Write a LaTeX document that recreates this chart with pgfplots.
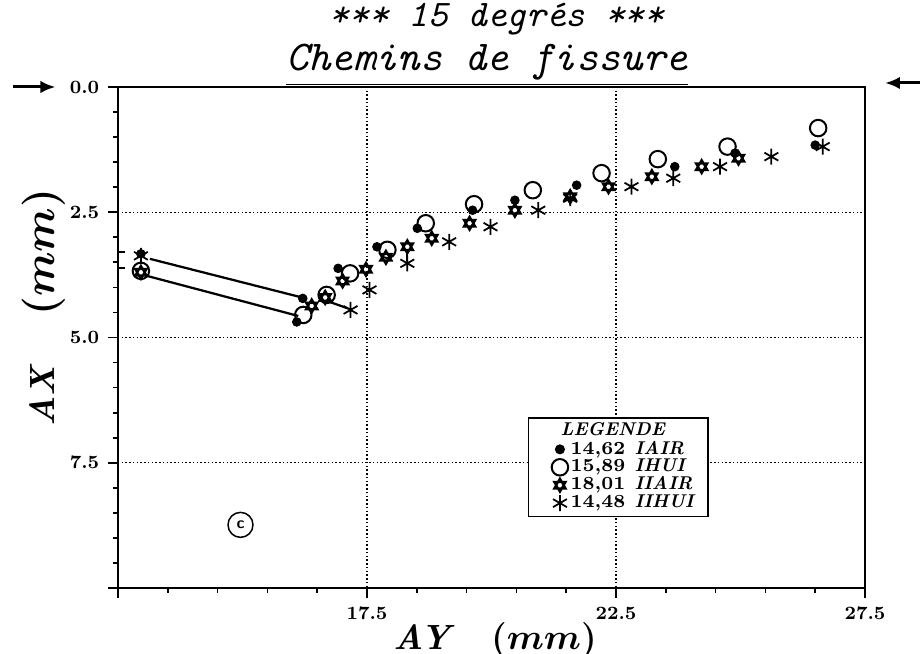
\documentclass[border=0pt]{standalone}
\usepackage{pgfplots}
\pgfplotsset{compat=1.18}
\usetikzlibrary{plotmarks,arrows.meta}
\pgfdeclareplotmark{hexagram}{%
  \pgfpathmoveto{\pgfqpointpolar{90}{\pgfplotmarksize}}%
  \pgfpathlineto{\pgfqpointpolar{210}{\pgfplotmarksize}}%
  \pgfpathlineto{\pgfqpointpolar{330}{\pgfplotmarksize}}%
  \pgfpathclose
  \pgfpathmoveto{\pgfqpointpolar{270}{\pgfplotmarksize}}%
  \pgfpathlineto{\pgfqpointpolar{30}{\pgfplotmarksize}}%
  \pgfpathlineto{\pgfqpointpolar{150}{\pgfplotmarksize}}%
  \pgfpathclose
  \pgfusepathqstroke
}
\begin{document}
\begin{tikzpicture}
\useasboundingbox (-47.2pt,-26.4pt) rectangle (320.8pt,235.2pt);
\begin{axis}[
  at={(0pt,0pt)}, anchor=south west,
  scale only axis, width=298.8pt, height=200.4pt,
  xmin=12.5, xmax=27.5, ymin=0, ymax=10, y dir=reverse,
  xtick={12.5,17.5,22.5,27.5},
  xticklabels={,\textbf{17.5},\textbf{22.5},\textbf{27.5}},
  ytick={0,2.5,5,7.5,10},
  yticklabels={\textbf{0.0},\textbf{2.5},\textbf{5.0},\textbf{7.5},},
  minor x tick num=4, minor y tick num=4,
  xtick pos=left, ytick pos=left,
  tick align=outside, major tick length=4pt, minor tick length=2pt,
  tick style={black, line width=0.7pt},
  grid=major,
  major grid style={black, line width=0.5pt, dash pattern=on 0.6pt off 0.9pt},
  axis line style={line width=0.9pt},
  tick label style={font=\fontsize{7.5}{8}\selectfont},
  legend style={at={(axis cs:20.73,6.59)}, anchor=north west, draw=black,
    line width=0.6pt, font=\bfseries\fontsize{7.4}{7.4}\selectfont,
    inner xsep=4pt, inner ysep=1pt, row sep=-1.5pt,
    nodes={inner sep=1pt},
    /tikz/every even column/.append style={column sep=7pt}},
  legend cell align=left,
]
\addlegendimage{empty legend}
\addlegendentry{\hspace{-4pt}\textit{LEGENDE}}
% line segments (crack jumps)
\addplot[black, line width=0.9pt, forget plot] coordinates {(12.5,3.29) (12.65,3.29)};
\addplot[black, line width=0.9pt, forget plot] coordinates {(12.5,3.61) (12.65,3.61)};
\addplot[black, line width=0.9pt, forget plot] coordinates {(13.14,3.43) (16.15,4.19)};
\addplot[black, line width=0.9pt, forget plot] coordinates {(13.08,3.77) (16.12,4.57)};
\addplot[black, line width=0.9pt, forget plot] coordinates {(16.72,4.28) (17.12,4.42)};
\addplot[black, line width=0.9pt, forget plot] coordinates {(18.31,3.27) (18.31,3.47)};
% IAIR
\addplot[only marks, mark=*, mark size=1.7pt, black] coordinates {
(12.96,3.33) (16.21,4.22) (16.09,4.69) (16.92,3.62) (17.70,3.19) (18.51,2.82)
(19.62,2.46) (20.47,2.26) (21.71,1.96) (23.68,1.59) (24.89,1.32) (26.50,1.16)};
\addlegendentry{14,62\enspace\textit{IAIR}}
% IHUI
\addplot[only marks, mark=o, mark size=3.3pt, black, line width=0.8pt] coordinates {
(12.96,3.67) (16.22,4.55) (16.69,4.15) (17.16,3.72) (17.91,3.25) (18.68,2.72)
(19.65,2.34) (20.83,2.06) (22.21,1.72) (23.34,1.44) (24.74,1.19) (26.56,0.82)};
\addlegendentry{15,89\enspace\textit{IHUI}}
% IIAIR
\addplot[only marks, mark=hexagram, mark size=2.6pt, black, line width=0.9pt] coordinates {
(12.96,3.70) (16.39,4.37) (16.66,4.20) (17.01,3.87) (17.48,3.64) (17.88,3.40)
(18.31,3.19) (18.80,3.02) (19.56,2.72) (20.47,2.46) (21.58,2.19) (22.35,1.99)
(23.22,1.79) (24.22,1.59) (24.96,1.42)};
\addlegendentry{18,01\enspace\textit{IIAIR}}
% IIHUI
\addplot[only marks, mark=asterisk, mark size=3.2pt, black, line width=0.7pt] coordinates {
(12.96,3.37) (17.17,4.45) (17.55,4.05) (18.31,3.52) (19.15,3.09) (19.98,2.79)
(20.94,2.46) (21.58,2.22) (22.81,1.99) (23.65,1.82) (24.59,1.59) (25.62,1.39)
(26.65,1.19)};
\addlegendentry{14,48\enspace\textit{IIHUI}}
\node[draw, circle, line width=0.6pt, minimum size=10pt, inner sep=0pt,
  font=\sffamily\bfseries\fontsize{6.5}{6.5}\selectfont] at (axis cs:14.96,8.74) {c};
\end{axis}
% titles
\node[font=\ttfamily\itshape\fontsize{15}{15}\selectfont] at (151.6pt,227.4pt) {*** 15 degrés ***};
\node[font=\ttfamily\itshape\fontsize{17}{17}\selectfont] at (147.6pt,209.2pt) {\underline{Chemins de fissure}};
% axis labels
\node[anchor=base west, inner sep=0pt] at (110pt,-24.8pt)
  {\bfseries\itshape\fontsize{14}{14}\selectfont AY\hspace{16pt}{\fontsize{15.5}{15.5}\selectfont\boldmath$(mm)$}};
\node[rotate=90, anchor=base west, inner sep=0pt] at (-25.2pt,64.4pt)
  {\bfseries\itshape\fontsize{14}{14}\selectfont AX\hspace{20pt}{\fontsize{16.5}{16.5}\selectfont\boldmath$(mm)$}};
% arrows at y = 0
\draw[line width=1.2pt, -{Latex[length=6pt,width=5pt]}] (-42pt,200.4pt) -- (-25pt,200.4pt);
\draw[line width=1.2pt, -{Latex[length=6pt,width=5pt]}] (320.8pt,202pt) -- (306.8pt,202pt);
\end{tikzpicture}
\end{document}
